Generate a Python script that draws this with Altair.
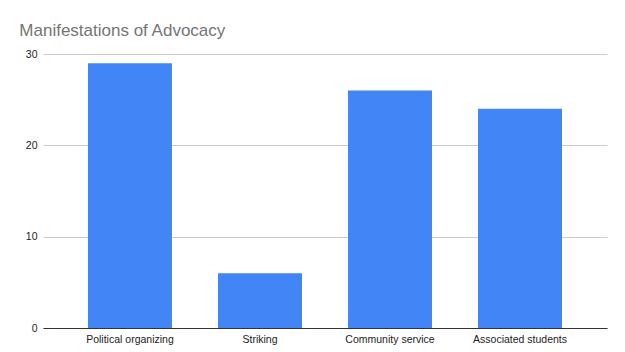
import altair as alt
import pandas as pd

categories = ["Political organizing", "Striking", "Community service", "Associated students"]
values = [29, 6, 26, 24]

df = pd.DataFrame({"category": categories, "value": values})

chart = alt.Chart(df).mark_bar(color="#4285F4").encode(
    x=alt.X("category:N", sort=categories, title=None,
            scale=alt.Scale(paddingInner=0.354, paddingOuter=0.346),
            axis=alt.Axis(labelAngle=0, ticks=False, domain=True, domainColor="#333333",
                          labelColor="#222222", labelFontSize=10.5, labelPadding=6,
                          labelFont="Liberation Sans")),
    y=alt.Y("value:Q", title=None,
            scale=alt.Scale(domain=[0, 30], nice=False),
            axis=alt.Axis(values=[0, 10, 20, 30], ticks=False, domain=False,
                          gridColor="#cccccc", labelColor="#222222", labelFontSize=10.5,
                          labelPadding=6, labelFont="Liberation Sans")),
).properties(
    width=564,
    height=274,
    title=alt.TitleParams("Manifestations of Advocacy", anchor="start", dx=-6,
                          fontSize=17, font="Liberation Sans", fontWeight="normal",
                          color="#757575", offset=9),
    autosize=alt.AutoSizeParams(type="none"),
    padding={"left": 43, "top": 54, "right": 18, "bottom": 24},
).configure_view(stroke=None)

chart.save("out.html", embed_options={"renderer": "svg", "actions": False})
